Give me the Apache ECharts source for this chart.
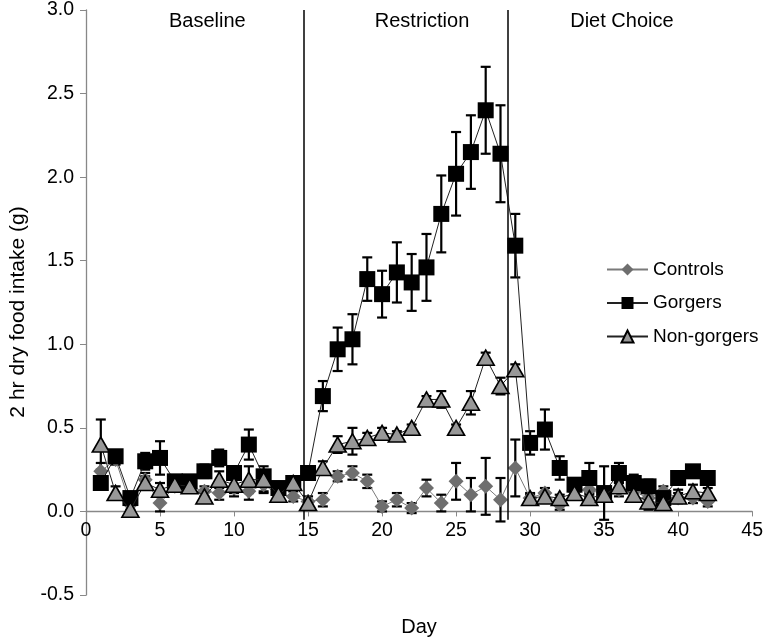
<!DOCTYPE html>
<html>
<head>
<meta charset="utf-8">
<script src="https://cdn.jsdelivr.net/npm/echarts@6/dist/echarts.min.js"></script>
<style>html,body{margin:0;padding:0;background:#fff}#c{width:766px;height:640px}</style>
</head>
<body>
<div id="c"></div>
<script>
const days = [1,2,3,4,5,6,7,8,9,10,11,12,13,14,15,16,17,18,19,20,21,22,23,24,25,26,27,28,29,30,31,32,33,34,35,36,37,38,39,40,41,42];
const controls = [0.24,0.31,0.04,0.19,0.05,0.15,0.15,0.12,0.11,0.14,0.12,0.16,0.10,0.09,0.06,
  0.07,0.21,0.23,0.18,0.03,0.07,0.02,0.14,0.05,0.18,0.10,0.15,0.07,0.26,
  0.08,0.11,0.04,0.12,0.13,0.10,0.13,0.12,0.08,0.12,0.08,0.08,0.06];
const controlsErr = [0.05,0.03,0.03,0.04,0.05,0.03,0.03,0.03,0.04,0.05,0.05,0.04,0.03,0.03,0.03,
  0.04,0.03,0.04,0.04,0.03,0.04,0.03,0.05,0.05,0.11,0.10,0.17,0.13,0.17,
  0.03,0.03,0.03,0.03,0.05,0.03,0.04,0.03,0.03,0.03,0.03,0.03,0.03];
const gorgers = [0.17,0.33,0.08,0.30,0.32,0.18,0.18,0.24,0.32,0.23,0.40,0.21,0.14,0.17,0.23,
  0.69,0.97,1.03,1.39,1.30,1.43,1.37,1.46,1.78,2.02,2.15,2.40,2.14,1.59,
  0.41,0.49,0.26,0.16,0.20,0.11,0.23,0.17,0.15,0.08,0.20,0.24,0.20];
const gorgersErr = [0.04,0.03,0.03,0.05,0.10,0.03,0.03,0.04,0.05,0.04,0.09,0.03,0.03,0.03,0.03,
  0.09,0.13,0.15,0.13,0.14,0.18,0.17,0.20,0.23,0.25,0.22,0.26,0.29,0.19,
  0.07,0.12,0.07,0.03,0.09,0.16,0.06,0.05,0.04,0.03,0.04,0.03,0.02];
const nonGorgers = [0.40,0.11,0.01,0.17,0.13,0.16,0.15,0.09,0.19,0.16,0.19,0.19,0.10,0.17,0.05,
  0.26,0.40,0.42,0.44,0.47,0.46,0.50,0.67,0.67,0.50,0.65,0.92,0.75,0.85,
  0.08,0.09,0.08,0.11,0.08,0.10,0.15,0.10,0.06,0.05,0.09,0.12,0.11];
const nonGorgersErr = [0.15,0.04,0.03,0.04,0.04,0.03,0.03,0.03,0.05,0.05,0.08,0.08,0.03,0.03,0.02,
  0.04,0.05,0.08,0.03,0.03,0.02,0.02,0.02,0.05,0.02,0.07,0.03,0.05,0.03,
  0.02,0.02,0.02,0.02,0.02,0.02,0.03,0.02,0.05,0.02,0.04,0.04,0.03];
const seriesNames = ['Controls','Gorgers','Non-gorgers'];
const phaseBoundaries = [14.7, 28.5];
const phaseLabels = ['Baseline','Restriction','Diet Choice'];
const phaseCenters = [8.2, 22.7, 36.2];
const yTicks = {min:-0.5, max:3.0, interval:0.5};
const xTicks = {min:0, max:45, interval:5};

const FONT = '"Liberation Sans", Arial, sans-serif';
const chart = echarts.init(document.getElementById('c'), null, {renderer:'canvas'});

function pts(vals){ return days.map((d,i)=>[d, vals[i]]); }
function errPts(vals, errs){ return days.map((d,i)=>[d, vals[i], errs[i]]); }

function errSeries(vals, errs, z){
  return {
    type:'custom', silent:true, z:z,
    data: errPts(vals, errs),
    renderItem: function(params, api){
      const x = api.value(0), y = api.value(1), e = api.value(2);
      const t = api.coord([x, y+e]), b = api.coord([x, y-e]);
      const hw = 5;
      const st = {stroke:'#000', lineWidth:2.2};
      return {type:'group', children:[
        {type:'line', shape:{x1:t[0],y1:t[1],x2:b[0],y2:b[1]}, style:st},
        {type:'line', shape:{x1:t[0]-hw,y1:t[1],x2:t[0]+hw,y2:t[1]}, style:st},
        {type:'line', shape:{x1:b[0]-hw,y1:b[1],x2:b[0]+hw,y2:b[1]}, style:st}
      ]};
    }
  };
}

const option = {
  animation:false,
  backgroundColor:'#fff',
  textStyle:{fontFamily:FONT},
  grid:{left:86, right:13, top:9, bottom:45, containLabel:false},
  legend:{
    data:seriesNames, orient:'vertical', left:601, top:255,
    itemWidth:41, itemHeight:15, itemGap:14.5,
    textStyle:{fontFamily:FONT, fontSize:19, color:'#000'},
    selectedMode:false
  },
  xAxis:{
    type:'value', min:xTicks.min, max:xTicks.max, interval:xTicks.interval,
    axisLine:{onZero:false, lineStyle:{color:'#888', width:1.3}},
    axisTick:{show:true, length:5, lineStyle:{color:'#888'}},
    axisLabel:{fontFamily:FONT, fontSize:19.5, color:'#000', margin:9},
    splitLine:{show:false}
  },
  yAxis:{
    type:'value', min:yTicks.min, max:yTicks.max, interval:yTicks.interval,
    axisLine:{show:true, lineStyle:{color:'#888', width:1.3}},
    axisTick:{show:true, length:6, lineStyle:{color:'#888'}},
    axisLabel:{fontFamily:FONT, fontSize:19.5, color:'#000', margin:12, formatter:v=>v.toFixed(1)},
    splitLine:{show:false}
  },
  series:[
    errSeries(controls, controlsErr, 1),
    errSeries(gorgers, gorgersErr, 1),
    errSeries(nonGorgers, nonGorgersErr, 1),
    {
      name:'Controls', type:'line', z:3, data:pts(controls),
      symbol:'diamond', symbolSize:[15,15], showAllSymbol:true,
      itemStyle:{color:'#6e6e6e', borderWidth:0},
      lineStyle:{color:'#7a7a7a', width:1},
      markLine:{
        silent:true, symbol:'none', label:{show:false},
        lineStyle:{color:'#000', width:1.5, type:'solid'},
        data: phaseBoundaries.map(b=>[{coord:[b, yTicks.max]},{coord:[b, -0.05]}])
      }
    },
    {
      name:'Gorgers', type:'line', z:4, data:pts(gorgers),
      symbol:'rect', symbolSize:[16,16], showAllSymbol:true,
      itemStyle:{color:'#000', borderWidth:0},
      lineStyle:{color:'#222', width:1}
    },
    {
      name:'Non-gorgers', type:'line', z:5, data:pts(nonGorgers),
      symbol:'triangle', symbolSize:[17,15], showAllSymbol:true,
      itemStyle:{color:'#989898', borderColor:'#000', borderWidth:1.6},
      lineStyle:{color:'#222', width:1}
    }
  ]
};
chart.setOption(option);

// move the x axis (line, ticks, labels) up to y = 0
const y0 = chart.convertToPixel({yAxisIndex:0}, 0);
const yMinPx = chart.convertToPixel({yAxisIndex:0}, yTicks.min);
const phaseText = phaseLabels.map((t,i)=>{
  const p = chart.convertToPixel({gridIndex:0}, [phaseCenters[i], 2.93]);
  return {type:'text', x:p[0], y:p[1], style:{text:t, fontFamily:FONT, fontSize:20, fill:'#000', align:'center', verticalAlign:'middle'}};
});
chart.setOption({
  xAxis:{offset: -(yMinPx - y0)},
  graphic: [
    {type:'text', x:18, y:312, rotation:Math.PI/2, style:{text:'2 hr dry food intake (g)', fontFamily:FONT, fontSize:21, fill:'#000', align:'center', verticalAlign:'middle'}},
    {type:'text', x:419, y:627, style:{text:'Day', fontFamily:FONT, fontSize:20, fill:'#000', align:'center', verticalAlign:'middle'}}
  ].concat(phaseText)
});
</script>
</body>
</html>
